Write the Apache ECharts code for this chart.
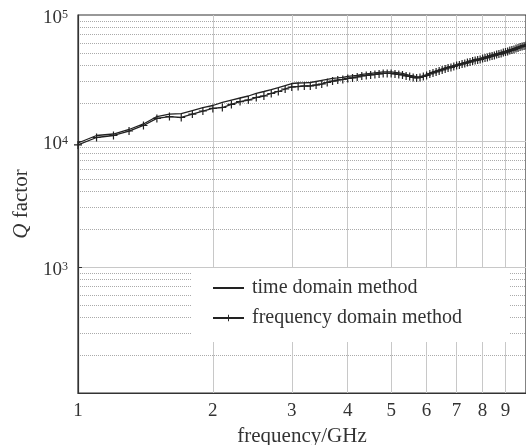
<!DOCTYPE html>
<html>
<head>
<meta charset="utf-8">
<script src="https://cdn.jsdelivr.net/npm/echarts@6/dist/echarts.min.js"></script>
<style>
  html, body { margin: 0; padding: 0; background: #fff; }
  #chart { width: 526px; height: 445px; }
</style>
</head>
<body>
<div id="chart"></div>
<script>
// frequency samples (GHz)
const freqGHz = [
  1.0, 1.1, 1.2, 1.3, 1.4, 1.5, 1.6, 1.7, 1.8, 1.9,
  2.0, 2.1, 2.2, 2.3, 2.4, 2.5, 2.6, 2.7, 2.8, 2.9,
  3.0, 3.1, 3.2, 3.3, 3.4, 3.5, 3.6, 3.7, 3.8, 3.9,
  4.0, 4.1, 4.2, 4.3, 4.4, 4.5, 4.6, 4.7, 4.8, 4.9,
  5.0, 5.1, 5.2, 5.3, 5.4, 5.5, 5.6, 5.7, 5.8, 5.9,
  6.0, 6.1, 6.2, 6.3, 6.4, 6.5, 6.6, 6.7, 6.8, 6.9,
  7.0, 7.1, 7.2, 7.3, 7.4, 7.5, 7.6, 7.7, 7.8, 7.9,
  8.0, 8.1, 8.2, 8.3, 8.4, 8.5, 8.6, 8.7, 8.8, 8.9,
  9.0, 9.1, 9.2, 9.3, 9.4, 9.5, 9.6, 9.7, 9.8, 9.9,
  10.0
];

const timeDomainQ = [
  9640, 11060, 11360, 12340, 13650, 15640, 16370, 16520, 17460, 18440,
  19130, 20230, 21150, 21940, 22760, 23830, 24710, 25620, 26580, 27570,
  28590, 28850, 28960, 29130, 29670, 30220, 30780, 31350, 31640, 31930,
  32520, 32820, 33120, 33730, 34040, 34350, 34670, 34990, 35310, 35310,
  35310, 34990, 34670, 34350, 33730, 33120, 32820, 32220, 32220, 32820,
  33730, 34670, 35310, 35960, 36620, 37290, 37980, 38680, 39030, 39750,
  40480, 40850, 41600, 41980, 42750, 43140, 43930, 44340, 44740, 45150,
  46000, 46430, 46860, 47730, 48170, 48610, 49450, 49900, 50350, 51270,
  51760, 52240, 53200, 53700, 54200, 55200, 55700, 56750, 57270, 57800,
  58340
];

const freqDomainQ = [
  9300, 10660, 11060, 12000, 13280, 15100, 15640, 15370, 16370, 17300,
  18120, 18440, 19500, 20560, 21150, 22140, 22760, 23830, 24710, 25870,
  26830, 27080, 27330, 27330, 27820, 28330, 29130, 29920, 30480, 30780,
  31350, 31640, 32220, 32820, 33120, 33430, 33730, 34040, 34350, 34350,
  34350, 34040, 33730, 33430, 32820, 32520, 31930, 31640, 31930, 32520,
  33120, 34040, 34670, 35310, 35960, 36620, 37290, 37980, 38330, 39030,
  39750, 40110, 40850, 41220, 41980, 42360, 43140, 43530, 43930, 44340,
  45150, 45570, 46000, 46860, 47300, 47730, 48610, 49000, 49450, 50350,
  50810, 51270, 52240, 52720, 53200, 54200, 54700, 55700, 56220, 56750,
  57270
];

// axis ticks
const xTickLabels = [1, 2, 3, 4, 5, 6, 7, 8, 9];
const yLabelExponents = [3, 4, 5];
const yMajorLines = [1000, 10000];
const yMinorLines = [
  200, 300, 400, 500, 600, 700, 800, 900,
  2000, 3000, 4000, 5000, 6000, 7000, 8000, 9000,
  20000, 30000, 40000, 50000, 60000, 70000, 80000, 90000
];

const FONT = "'Liberation Serif', 'Times New Roman', serif";
const INK = '#333';
const LINE = '#222';
const PLUS = 'path://M8.5,0h3v8.5h8.5v3h-8.5v8.5h-3v-8.5h-8.5v-3h8.5z';

const lg = Math.log10;
const toPoints = (qs) => freqGHz.map((f, i) => [lg(f), lg(qs[i])]);

const chart = echarts.init(document.getElementById('chart'));

chart.setOption({
  animation: false,
  textStyle: { fontFamily: FONT, color: INK },
  grid: {
    left: 78, right: 0, top: 15, bottom: 52,
    outerBoundsMode: 'none',   // v6 would otherwise shrink the grid to fit the axis name
    show: true, borderColor: INK, borderWidth: 1.2
  },
  legend: {
    orient: 'vertical',
    left: 192, top: 268,
    padding: [10, 48, 14, 20],
    itemGap: 10,
    itemWidth: 31, itemHeight: 8,
    backgroundColor: '#fff',
    textStyle: { fontFamily: FONT, fontSize: 20, color: INK, padding: [0, 0, 0, 3] },
    data: [
      // plain line, no marker
      { name: 'time domain method', itemStyle: { opacity: 0 } },
      'frequency domain method'
    ]
  },
  xAxis: {
    type: 'value', min: 0, max: 1,
    name: 'frequency/GHz', nameLocation: 'middle', nameGap: 28,
    nameTextStyle: { fontFamily: FONT, fontSize: 21, color: INK },
    axisLine: { show: true, lineStyle: { color: INK, width: 1.2 } },
    axisTick: { show: false, customValues: xTickLabels.map(lg) },
    axisLabel: {
      customValues: xTickLabels.map(lg),
      formatter: v => String(Math.round(Math.pow(10, v))),
      fontFamily: FONT, fontSize: 19, color: INK, margin: 9
    },
    splitLine: { show: true, lineStyle: { color: '#c8c8c8', width: 1 } }
  },
  yAxis: [
    {
      type: 'value', min: 2, max: 5,
      name: '{q|Q} factor', nameLocation: 'middle', nameGap: 43,
      nameTextStyle: {
        fontFamily: FONT, fontSize: 21, color: INK,
        rich: { q: { fontFamily: FONT, fontSize: 21, fontStyle: 'italic', color: INK } }
      },
      axisLine: { show: true, lineStyle: { color: INK, width: 1.2 } },
      axisTick: { show: false, customValues: yMinorLines.map(lg) },
      axisLabel: {
        customValues: yLabelExponents,
        formatter: v => '{b|10}{s|' + Math.round(v) + '}',
        margin: 10,
        padding: [6, 0, 0, 0],
        rich: {
          b: { fontFamily: FONT, fontSize: 19, lineHeight: 19, color: INK },
          s: { fontFamily: FONT, fontSize: 12, lineHeight: 12, verticalAlign: 'top', color: INK }
        }
      },
      splitLine: { show: true, lineStyle: { color: '#aaa', width: 1, type: [1, 1] } }
    },
    {
      type: 'value', min: 2, max: 5, position: 'left',
      axisLine: { show: false },
      axisLabel: { show: false },
      axisTick: {
        show: true, inside: true, length: 4,
        customValues: yMajorLines.map(lg),
        lineStyle: { color: INK, width: 1 }
      },
      splitLine: { show: true, lineStyle: { color: '#c8c8c8', width: 1 } }
    }
  ],
  series: [
    {
      name: 'time domain method',
      type: 'line',
      data: toPoints(timeDomainQ),
      symbol: 'none',
      lineStyle: { color: LINE, width: 1.3 },
      itemStyle: { color: LINE }
    },
    {
      name: 'frequency domain method',
      type: 'line',
      data: toPoints(freqDomainQ),
      symbol: PLUS,
      symbolSize: 8,
      showAllSymbol: true,
      lineStyle: { color: LINE, width: 1.3 },
      itemStyle: { color: LINE }
    }
  ]
});
</script>
</body>
</html>
